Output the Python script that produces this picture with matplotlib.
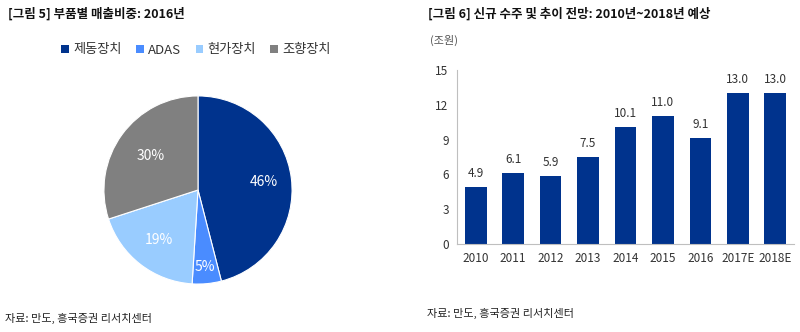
import numpy as np
import matplotlib.pyplot as plt
from matplotlib.patches import Patch

plt.rcParams['font.family'] = ['Noto Sans CJK KR', 'DejaVu Sans']

# pie data
parts = ['제동장치', 'ADAS', '현가장치', '조향장치']
shares = [46, 5, 19, 30]
pie_colors = ['#00338D', '#4A8CFF', '#99CCFF', '#808080']
label_r = [0.70, 0.82, 0.67, 0.62]

# bar data
years = ['2010', '2011', '2012', '2013', '2014', '2015', '2016', '2017E', '2018E']
orders = [4.9, 6.1, 5.9, 7.5, 10.1, 11.0, 9.1, 13.0, 13.0]

W, H = 800, 332
fig = plt.figure(figsize=(8, 3.32), dpi=100)

def px(l, t, r, b):
    return [l / W, 1 - b / H, (r - l) / W, (b - t) / H]

# titles and sources
fig.text(8 / W, 1 - 14 / H, '[그림 5] 부품별 매출비중: 2016년', fontsize=9,
         fontweight='bold', va='center', color='#111111')
fig.text(428 / W, 1 - 14 / H, '[그림 6] 신규 수주 및 추이 전망: 2010년~2018년 예상', fontsize=9,
         fontweight='bold', va='center', color='#111111')
fig.text(5 / W, 1 - 318 / H, '자료: 만도, 흥국증권 리서치센터', fontsize=8,
         va='center', color='#222222')
fig.text(427 / W, 1 - 313 / H, '자료: 만도, 흥국증권 리서치센터', fontsize=8,
         va='center', color='#222222')

# pie
ax1 = fig.add_axes(px(103, 95, 293, 285))
wedges, _ = ax1.pie(shares, colors=pie_colors, startangle=90, counterclock=False,
                    wedgeprops=dict(edgecolor='white', linewidth=0.8))
for w, s, r in zip(wedges, shares, label_r):
    ang = np.deg2rad((w.theta1 + w.theta2) / 2)
    ax1.text(r * np.cos(ang), r * np.sin(ang), f'{s}%', color='white',
             fontsize=10, ha='center', va='center')
ax1.set_xlim(-1.01, 1.01)
ax1.set_ylim(-1.01, 1.01)
ax1.set_aspect('equal')

handles = [Patch(facecolor=c, edgecolor='none') for c in pie_colors]
fig.legend(handles, parts, loc='center', bbox_to_anchor=(196 / W, 1 - 50 / H),
           ncol=4, frameon=False, fontsize=9.5, handlelength=0.6, handleheight=0.6,
           handletextpad=0.3, columnspacing=1.1, labelcolor='#333333')

# bars
ax2 = fig.add_axes(px(457, 70, 794, 244))
x = np.arange(len(years))
ax2.bar(x, orders, width=0.58, color='#00338D')
for xi, v in zip(x, orders):
    ax2.text(xi, v + 0.6, f'{v:.1f}', ha='center', va='bottom', fontsize=8.5, color='#333333')
ax2.set_xlim(-0.5, len(years) - 0.5)
ax2.set_ylim(0, 15)
ax2.set_yticks([0, 3, 6, 9, 12, 15])
ax2.set_xticks(x)
ax2.set_xticklabels(years)
ax2.tick_params(length=0, labelsize=8.5, labelcolor='#333333', pad=6)
for s in ['top', 'right']:
    ax2.spines[s].set_visible(False)
for s in ['left', 'bottom']:
    ax2.spines[s].set_color('#BFBFBF')
    ax2.spines[s].set_linewidth(0.8)
fig.text(430 / W, 1 - 40 / H, '(조원)', fontsize=8, va='center', color='#555555')

fig.savefig('out.png', dpi=100)
